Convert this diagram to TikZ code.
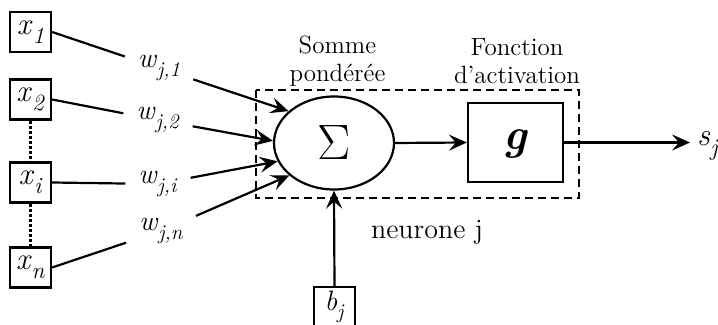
\documentclass[tikz,border=0pt]{standalone}
\usetikzlibrary{shapes.geometric,arrows.meta}

\newcommand{\varsub}[2]{\textit{#1}\raisebox{-0.3em}{\scalebox{0.75}{\textit{#2}}}}

\begin{document}
\begin{tikzpicture}[x=0.5pt,y=-0.5pt,line width=1.1pt,
    inbox/.style={draw,minimum width=20.5pt,minimum height=20pt,inner sep=0pt,font=\fontsize{15.5}{15.5}\selectfont},
    wlabel/.style={inner xsep=6pt,inner ysep=2pt,font=\fontsize{14}{14}\selectfont},
    arr/.style={-{Stealth[length=9pt,width=8pt,inset=3.5pt]}},
    title/.style={align=center,font=\fontsize{12.5}{14}\selectfont}]
  \useasboundingbox (0,0) rectangle (718,325);
  % inputs and weights
  \node[inbox] (x1) at (30.5,32) {\varsub{x}{1}};
  \node[inbox] (x2) at (30.5,99.5) {\varsub{x}{2}};
  \node[inbox] (xi) at (30.5,182.5) {\varsub{x}{i}};
  \node[inbox] (xn) at (30.5,267.5) {\varsub{x}{n}};
  \node[wlabel] (w1) at (159,68) {\varsub{w}{j,1}};
  \node[wlabel] (w2) at (158,120) {\varsub{w}{j,2}};
  \node[wlabel] (wi) at (158,184) {\varsub{w}{j,i}};
  \node[wlabel] (wn) at (161,231) {\varsub{w}{j,n}};
  \draw[line width=1.6pt,dash pattern=on 1.5pt off 1pt] (x2.south) -- (xi.north);
  \draw[line width=1.6pt,dash pattern=on 1.5pt off 1pt] (xi.south) -- (xn.north);
  % neuron
  \draw[dash pattern=on 4pt off 2.5pt] (256,90) rectangle (579,198);
  \node[draw,ellipse,minimum width=60pt,minimum height=46.5pt,inner sep=0pt,
        font=\fontsize{26}{26}\selectfont] (sum) at (334,143) {$\Sigma$};
  \node[draw,minimum width=47.5pt,minimum height=39.5pt,inner sep=0pt,
        text height=0.9em,text depth=0.22em,font=\fontsize{22}{22}\selectfont] (g) at (515.5,142.5) {\textbf{\textit{g}}};
  \node[title] (ts) at (337.5,61) {Somme\\pondérée};
  \node[title] (tg) at (517,61) {Fonction\\d’activation};
  \node[font=\fontsize{14}{15}\selectfont] (nj) at (427,232) {neurone j};
  \node[anchor=west,inner sep=3pt,font=\fontsize{16}{16}\selectfont] (sj) at (690,146) {\varsub{s}{j}};
  \node[inbox,font=\fontsize{14}{14}\selectfont] (bj) at (334.5,307) {\varsub{b}{j}};
  % connections
  \foreach \x/\w/\a in {x1/w1/145, x2/w2/178, xi/wi/198, xn/wn/216} {
    \draw (\x.east) -- (\w);
    \draw[arr] (\w) -- (sum.\a);
  }
  \draw[arr] (sum.east) -- (g.west);
  \draw[arr] (g.east) -- (g.east -| sj.west);
  \draw[arr] (bj.north) -- (sum.south);
\end{tikzpicture}
\end{document}
